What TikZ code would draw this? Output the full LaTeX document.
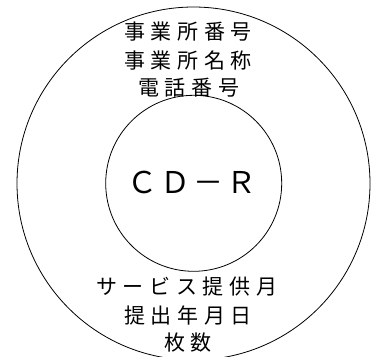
\documentclass[tikz,border=0pt]{standalone}
\usepackage{fontspec}
\newfontfamily\jpwide[LetterSpace=27]{Noto Sans CJK JP}
\newfontfamily\jpcd[LetterSpace=10]{Noto Sans CJK JP}
\begin{document}
\begin{tikzpicture}[x=1pt,y=-1pt,
  ring/.style={circle,draw,line width=0.8pt,inner sep=0pt},
  label/.style={inner sep=0pt,anchor=west,font=\jpwide\fontsize{21}{21}\selectfont},
  title/.style={inner sep=0pt,anchor=west,font=\jpcd\fontsize{30}{30}\selectfont}]
\useasboundingbox (0,0) rectangle (374,356);
\clip (0,0) rectangle (374,356);
\node[ring,minimum size=353pt] (outer) at (193.5,183.5) {};
\node[ring,minimum size=176pt] (inner) at (193.7,183.3) {};
\node[label] (l1) at (124,32) {事業所番号};
\node[label] (l2) at (124,61) {事業所名称};
\node[label] (l3) at (138,88) {電話番号};
\node[title] (cd) at (127,182) {ＣＤ－Ｒ};
\node[label] (b1) at (96,287) {サービス提供月};
\node[label] (b2) at (124,315) {提出年月日};
\node[label] (b3) at (164,343) {枚数};
\end{tikzpicture}
\end{document}
